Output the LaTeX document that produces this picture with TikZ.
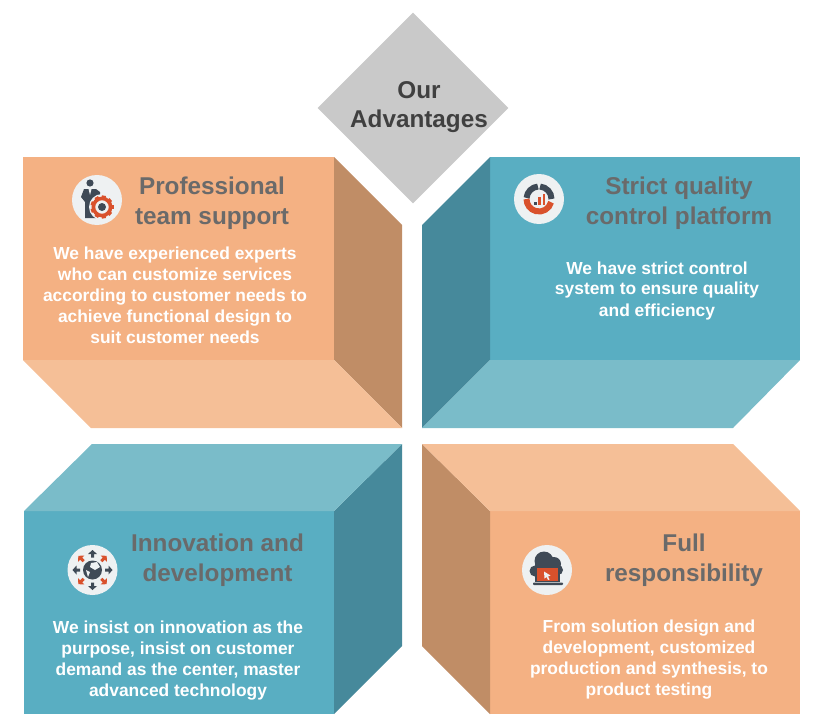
\documentclass[tikz,border=0pt]{standalone}
\usepackage{fontspec}
\setmainfont{Liberation Sans}
\usetikzlibrary{shapes.geometric}
\definecolor{orfront}{HTML}{F4B183}
\definecolor{orside}{HTML}{C08D66}
\definecolor{orflat}{HTML}{F5BF97}
\definecolor{tefront}{HTML}{59AEC2}
\definecolor{teside}{HTML}{46899B}
\definecolor{teflat}{HTML}{7ABCC9}
\definecolor{headgray}{HTML}{6A6A6A}
\definecolor{icondark}{HTML}{3F4A56}
\definecolor{iconred}{HTML}{D9512C}
\definecolor{iconbg}{HTML}{EEF1F2}
\tikzset{
  head/.style={font=\bfseries\fontsize{24.3}{29.5}\selectfont,text=headgray,align=center,inner sep=0pt},
  body/.style={font=\bfseries\fontsize{17.4}{21}\selectfont,text=white,align=center,inner sep=0pt},
  badge/.style={circle,fill=iconbg,minimum size=50pt,inner sep=0pt},
}
\begin{document}
\begin{tikzpicture}[x=1pt,y=-1pt]
\useasboundingbox (0,0) rectangle (820,725);
% top left block
\fill[orfront] (23,157) rectangle (334,360);
\fill[orside] (334,157) -- (402,225) -- (402,428) -- (334,360) -- cycle;
\fill[orflat] (23,360) -- (334,360) -- (402,428) -- (91,428) -- cycle;
% top right block
\fill[tefront] (490,157) rectangle (800,360);
\fill[teside] (490,157) -- (422,225) -- (422,428) -- (490,360) -- cycle;
\fill[teflat] (490,360) -- (800,360) -- (733,428) -- (422,428) -- cycle;
% bottom left block
\fill[tefront] (24,511) rectangle (334,714);
\fill[teside] (334,511) -- (402,444) -- (402,646) -- (334,714) -- cycle;
\fill[teflat] (24,511) -- (92,444) -- (402,444) -- (334,511) -- cycle;
% bottom right block
\fill[orfront] (490,511) rectangle (800,714);
\fill[orside] (490,511) -- (422,444) -- (422,646) -- (490,714) -- cycle;
\fill[orflat] (422,444) -- (733,444) -- (800,511) -- (490,511) -- cycle;

% title
\node[diamond,fill=black!21,minimum width=191pt,minimum height=191pt,inner sep=0pt] (title) at (413,108) {};
\node[font=\bfseries\fontsize{24.3}{29.5}\selectfont,text=black!75,align=center,inner sep=0pt] (titletext) at (419,107) {Our\\Advantages};

% headings
\node[head] (head1) at (212,203) {Professional\\team support};
\node[head] (head2) at (679,203) {Strict quality\\control platform};
\node[head] (head3) at (217.5,560) {Innovation and\\development};
\node[head] (head4) at (684,560) {Full\\responsibility};

% texts
\node[body] (text1) at (175,295.5) {We have experienced experts\\who can customize services\\according to customer needs to\\achieve functional design to\\suit customer needs};
\node[body] (text2) at (657,290.5) {We have strict control\\system to ensure quality\\and efficiency};
\node[body] (text3) at (178,660.5) {We insist on innovation as the\\purpose, insist on customer\\demand as the center, master\\advanced technology};
\node[body] (text4) at (649,659.5) {From solution design and\\development, customized\\production and synthesis, to\\product testing};

% icon team
\node[badge] (icon1) at (97,200) {};
\fill[icondark] (90,183) circle (3.6);
\fill[icondark] (84,189) -- (96,189) -- (100,192) -- (100,198) -- (96,201) -- (96,218) -- (85,218) -- (85,202) -- (81,197) -- cycle;
\fill[iconbg] (88.5,189) -- (91.5,189) -- (90,195) -- cycle;
\fill[iconbg] (102,207) circle (13);
\foreach \ang in {0,40,...,320} {
  \fill[iconred,rotate around={\ang:(102,207)}] (110,205) rectangle (113.5,209);
}
\draw[iconred,line width=3.6] (102,207) circle (8.6);
\fill[icondark] (102,207) circle (4);

% icon quality
\node[badge] (icon2) at (539,199) {};
\begin{scope}[shift={(539,199)},x=1pt,y=1pt]
  \draw[icondark,line width=6] (175:12.5) arc (175:95:12.5);
  \draw[icondark,line width=6] (85:12.5) arc (85:0:12.5);
  \draw[iconred,line width=6] (-15:12.5) arc (-15:-180:12.5);
\end{scope}
\fill[icondark] (534,202) rectangle (536.5,205);
\fill[iconred] (538,197) rectangle (540.5,205);
\fill[iconred] (542.5,194) rectangle (545,205);

% icon network
\node[badge] (icon3) at (92.5,570) {};
\fill[icondark] (92.5,570) circle (9.5);
\fill[iconbg] (91,563) -- (97,562) -- (100,567) -- (95,570) -- (90,567) -- cycle;
\fill[iconbg] (86,570) -- (90,572) -- (88,577) -- cycle;
\foreach \ang in {0,90,180,270} {
  \fill[icondark,rotate around={\ang:(92.5,570)}] (105,568.5) -- (108.5,568.5) -- (108.5,565.5) -- (112.5,570) -- (108.5,574.5) -- (108.5,571.5) -- (105,571.5) -- cycle;
}
\foreach \ang in {45,135,225,315} {
  \fill[iconred,rotate around={\ang:(92.5,570)}] (105,568.5) -- (108.5,568.5) -- (108.5,565.5) -- (112.5,570) -- (108.5,574.5) -- (108.5,571.5) -- (105,571.5) -- cycle;
}

% icon cloud
\node[badge] (icon4) at (547,570) {};
\fill[icondark] (535,571) circle (5.5) (544,561) circle (9.5) (554,564) circle (7) (558,570) circle (5);
\fill[icondark] (535,564) rectangle (558,576);
\draw[icondark,line width=1.4,fill=iconred] (536,567.5) rectangle (559,581.5);
\fill[icondark,rounded corners=0.8] (533,582.5) rectangle (563,585);
\fill[iconbg] (544,571.5) -- (550.5,575.5) -- (548,576.5) -- (549.5,579.5) -- (548,580) -- (546.5,577) -- (544.5,578.5) -- cycle;
\end{tikzpicture}
\end{document}
